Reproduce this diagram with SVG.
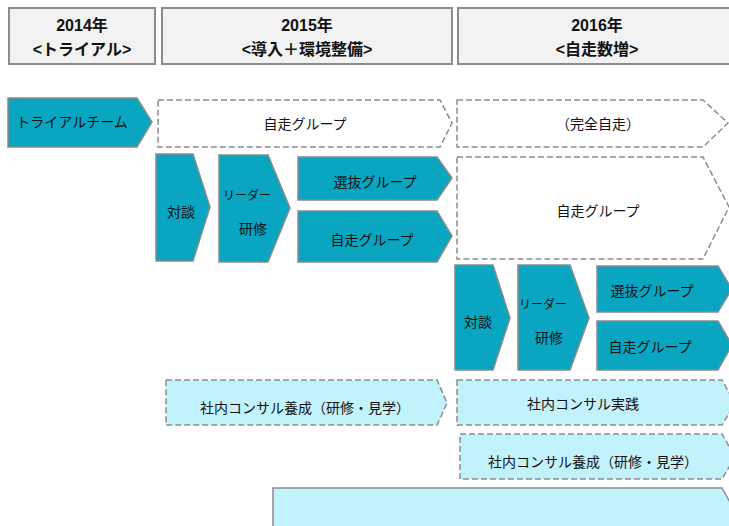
<svg xmlns="http://www.w3.org/2000/svg" width="729" height="526" viewBox="0 0 729 526">
<style>
.hdr{fill:#f2f2f2;stroke:#8c8c8c;stroke-width:2}
.ht{font-family:"Liberation Sans","Noto Sans CJK JP",sans-serif;font-weight:bold;font-size:16px;fill:#111;text-anchor:middle}
.teal{fill:#0aa5c0;stroke:#8a8a8a;stroke-width:1.5}
.dash{fill:#fff;stroke:#8c8c8c;stroke-width:1.5;stroke-dasharray:6 3}
.lc{fill:#c2f2fc;stroke:#8c8c8c;stroke-width:1.5;stroke-dasharray:6 3}
.lcs{fill:#c2f2fc;stroke:#8c8c8c;stroke-width:1.5}
.t{font-family:"Noto Sans CJK JP",sans-serif;font-size:14px;fill:#111;text-anchor:middle}
.ts{font-family:"Noto Sans CJK JP",sans-serif;font-size:12px;fill:#111;text-anchor:middle}
</style>
<g id="h2014"><rect class="hdr" x="9" y="8" width="146" height="56"/><text class="ht" x="82" y="31">2014年</text><text class="ht" x="82" y="55">&lt;トライアル&gt;</text></g>
<g id="h2015"><rect class="hdr" x="162" y="8" width="290" height="56"/><text class="ht" x="307" y="31">2015年</text><text class="ht" x="307" y="55">&lt;導入＋環境整備&gt;</text></g>
<g id="h2016"><rect class="hdr" x="458" y="8" width="280" height="56"/><text class="ht" x="597" y="31">2016年</text><text class="ht" x="597" y="55">&lt;自走数増&gt;</text></g>

<g id="trial"><path class="teal" d="M8,98 H137 L152,122 L137,147 H8 Z"/><text class="t" x="72" y="127">トライアルチーム</text></g>
<g id="jiso1"><path class="dash" d="M158,100 H440 L452,123 L440,147 H158 Z"/><text class="t" x="305" y="129">自走グループ</text></g>
<g id="kanzen"><path class="dash" d="M457,100 H703 L728,123 L703,147 H457 Z"/><text class="t" x="598" y="129">（完全自走）</text></g>

<g id="taidan1"><path class="teal" d="M156,154 H193 L210,207 L193,261 H156 Z"/><text class="t" x="181" y="217">対談</text></g>
<g id="leader1"><path class="teal" d="M219,155 H268 L290,208 L268,262 H219 Z"/><text class="ts" x="247" y="200">リーダー</text><text class="t" x="253" y="234">研修</text></g>
<g id="senbatsu1"><path class="teal" d="M298,157 H437 L452,178 L437,200 H298 Z"/><text class="t" x="375" y="187">選抜グループ</text></g>
<g id="jiso2"><path class="teal" d="M298,211 H437 L452,236 L437,262 H298 Z"/><text class="t" x="372" y="245">自走グループ</text></g>
<g id="jisoBig"><path class="dash" d="M457,157 H703 L729,207 L703,259 H457 Z"/><text class="t" x="598" y="216">自走グループ</text></g>

<g id="taidan2"><path class="teal" d="M455,265 H493 L510,318 L493,370 H455 Z"/><text class="t" x="478" y="327">対談</text></g>
<g id="leader2"><path class="teal" d="M518,265 H570 L589,318 L570,370 H518 Z"/><text class="ts" x="543" y="309">リーダー</text><text class="t" x="549" y="343">研修</text></g>
<g id="senbatsu2"><path class="teal" d="M597,266 H718 L732,289 L718,312 H597 Z"/><text class="t" x="652" y="296">選抜グループ</text></g>
<g id="jiso3"><path class="teal" d="M597,321 H718 L732,345 L718,370 H597 Z"/><text class="t" x="650" y="352">自走グループ</text></g>

<g id="consul1"><path class="lc" d="M166,380 H437 L447,403 L437,425 H166 Z"/><text class="t" x="305" y="413">社内コンサル養成（研修・見学）</text></g>
<g id="jissen"><path class="lc" d="M457,380 H722 L735,403 L722,425 H457 Z"/><text class="t" x="583" y="409">社内コンサル実践</text></g>
<g id="consul2"><path class="lc" d="M460,434 H722 L735,457 L722,479 H460 Z"/><text class="t" x="593" y="467">社内コンサル養成（研修・見学）</text></g>
<g id="bottom"><path class="lcs" d="M273,530 V488 H722 L740,520 V530 Z"/></g>
<g id="connectors"></g>
</svg>
